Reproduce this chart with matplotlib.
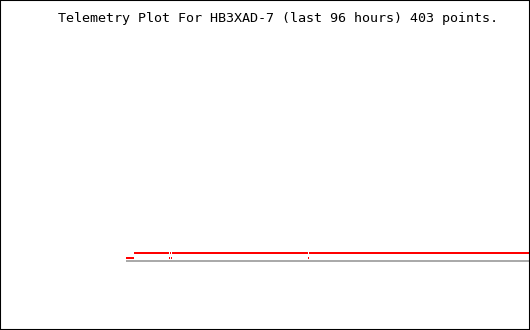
import matplotlib
matplotlib.use("Agg")
import matplotlib.pyplot as plt
from matplotlib.patches import Rectangle

# telemetry data: 403 points, mostly at the high level with a few dips
n_points = 403
low_idx = [0, 1, 2, 3, 4, 5, 6, 7, 43, 45, 182]
high_val = 1.0
low_val = 0.0
base_val = -0.6   # grey reference line

values = [low_val if i in low_idx else high_val for i in range(n_points)]
idx = list(range(n_points))

title = "Telemetry Plot For HB3XAD-7 (last 96 hours) 403 points."

fig = plt.figure(figsize=(5.3, 3.3), dpi=100)

# plot area: x from 126 px to the right edge, y from 40 px to bottom
ax = fig.add_axes([126 / 530, 0, 404 / 530, 290 / 330])
ax.set_xlim(0, n_points + 1)
# 5 px per unit
ax.set_ylim(low_val - (330 - 258) / 5, low_val + (258 - 40) / 5)
ax.axis("off")

thick = 0.4  # 2 px
ax.axhspan(base_val - thick / 2, base_val + thick / 2, color="#aaaaaa",
           linewidth=0)
ax.bar(idx, thick, bottom=[v - thick / 2 for v in values], width=1, align="edge",
       color="#ff0000", linewidth=0)

fig.text(278.5 / 530, 1 - 22 / 330, title, ha="center", va="baseline",
         family="DejaVu Sans Mono", fontsize=9.6)

fig.patches.append(Rectangle((0, 0), 1, 1, transform=fig.transFigure,
                             fill=False, edgecolor="black", linewidth=1.5))

fig.savefig("out.png", dpi=100)
